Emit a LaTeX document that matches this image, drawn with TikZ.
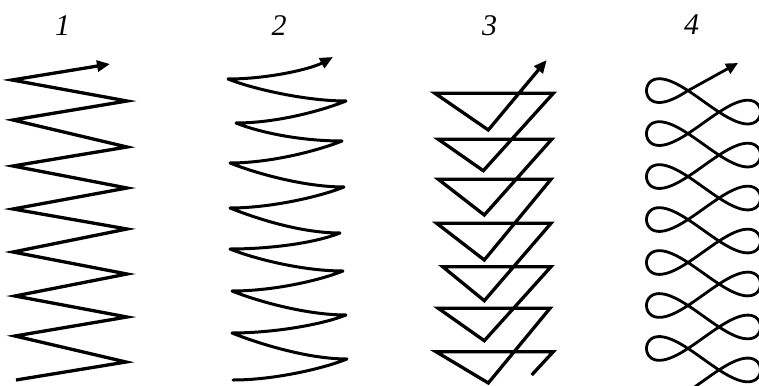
\documentclass[tikz,border=0pt]{standalone}
\usepackage{fontspec}
\setmainfont{Liberation Serif}
\usetikzlibrary{arrows.meta}
\tikzset{
  lbl/.style={font=\fontsize{30}{30}\selectfont\itshape, inner sep=0pt},
  zig/.style={line width=3.3pt, line join=miter, -{Triangle[length=13pt,width=11pt]}},
  coil/.style={line width=3pt, line join=round, line cap=round, -{Triangle[length=13pt,width=11pt]}},
  tri/.style={line width=3.3pt, line join=miter, -{Triangle[length=13pt,width=11pt]}},
  loops/.style={line width=2.8pt, line join=round, -{Triangle[length=12pt,width=11pt]}}
}
\begin{document}
\begin{tikzpicture}[x=1pt,y=-1pt]
\useasboundingbox (0,0) rectangle (759,385);
% labels
\node[lbl] (n1) at (62.5,25.5) {1};
\node[lbl] (n2) at (279,25.5) {2};
\node[lbl] (n3) at (489.5,25.5) {3};
\node[lbl] (n4) at (691.5,25) {4};
% figure 1: zigzag
\draw[zig] (16,380) -- (126,362) -- (15,336) -- (127,317) -- (15,296) -- (127,274)
  -- (13,252) -- (127,229) -- (13,209) -- (127,188) -- (13,166) -- (127,147)
  -- (13,120) -- (127,101) -- (12,80) -- (110,64);
% figure 2: coil
\draw[coil] (233,380)
  .. controls +(40,0) and +(-25,10) .. (347,359)
  .. controls +(-40,0) and +(25,10) .. (232,333)
  .. controls +(40,0) and +(-25,10) .. (346,315)
  .. controls +(-40,0) and +(25,10) .. (232,291)
  .. controls +(40,0) and +(-25,10) .. (343,271)
  .. controls +(-40,0) and +(25,10) .. (230,249)
  .. controls +(40,0) and +(-25,10) .. (340,233)
  .. controls +(-40,0) and +(25,10) .. (230,208)
  .. controls +(40,0) and +(-25,10) .. (344,187)
  .. controls +(-40,0) and +(25,10) .. (230,163)
  .. controls +(40,0) and +(-25,10) .. (342,141)
  .. controls +(-40,0) and +(25,10) .. (236,123)
  .. controls +(40,0) and +(-25,10) .. (346,101)
  .. controls +(-40,0) and +(25,10) .. (228,79)
  .. controls +(40,0) and +(-22,12) .. (333,57);
% figure 3: triangles
\draw[tri] (531.7,375) -- (553.3,351.7) -- (436,351.7) -- (488.3,383)
  -- (550,308.3) -- (438.3,308.3) -- (484.3,340.7)
  -- (551,266.7) -- (442.7,266.7) -- (484.3,300.7)
  -- (551,223.3) -- (436.7,223.3) -- (484.3,260)
  -- (551,179.3) -- (438.3,179.3) -- (484.3,215)
  -- (551.7,139.3) -- (438.3,139.3) -- (483.3,170.7)
  -- (553.3,93.3) -- (435,93.3) -- (488.3,130)
  -- (546.7,60);
% figure 4: loops
\draw[loops] plot[domain=-0.15:43.706, samples=700, smooth, variable=\t]
  ({703.5+57*sin(\t r)}, {380.7-6.84*\t-16.9*sin(2*\t r)}) -- (738,63);
\end{tikzpicture}
\end{document}
